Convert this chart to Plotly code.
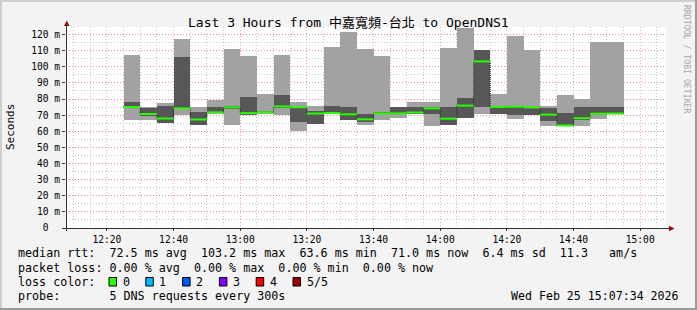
import plotly.graph_objects as go
from datetime import datetime, timedelta

# ---------------- data ----------------
slot_start = [
    "12:25", "12:30", "12:35", "12:40", "12:45", "12:50", "12:55", "13:00", "13:05", "13:10",
    "13:15", "13:20", "13:25", "13:30", "13:35", "13:40", "13:45", "13:50", "13:55", "14:00",
    "14:05", "14:10", "14:15", "14:20", "14:25", "14:30", "14:35", "14:40", "14:45", "14:50",
]
rtt_min = [67.2, 66.7, 65.0, 70.2, 64.0, 70.4, 64.1, 70.2, 70.8, 69.8,
           59.9, 64.4, 70.5, 66.7, 64.1, 67.2, 68.0, 70.6, 63.0, 63.6,
           68.3, 70.7, 70.5, 67.8, 70.2, 63.0, 63.1, 63.4, 67.8, 70.7]
rtt_p2 = [74.3, 69.5, 64.9, 73.8, 64.1, 71.2, 74.3, 70.3, 71.2, 74.4,
          65.8, 64.5, 70.7, 66.8, 65.7, 70.6, 70.5, 70.7, 70.5, 63.8,
          68.3, 74.8, 70.7, 70.3, 70.3, 66.6, 63.2, 67.2, 70.7, 70.8]
rtt_median = [75.0, 70.7, 67.9, 74.2, 67.3, 71.7, 74.8, 71.2, 71.8, 75.4,
              74.9, 71.0, 71.3, 70.5, 67.4, 71.1, 71.1, 71.6, 74.2, 67.8,
              75.9, 103.3, 75.1, 75.2, 74.8, 70.3, 63.6, 68.1, 70.9, 71.0]
rtt_p4 = [78.3, 74.7, 75.8, 106.2, 71.7, 75.2, 75.5, 81.5, 72.7, 82.2,
          75.1, 72.7, 75.4, 74.8, 70.7, 72.0, 75.2, 75.3, 75.1, 75.3,
          80.8, 110.6, 75.4, 75.5, 74.9, 74.7, 71.5, 75.2, 75.2, 75.2]
rtt_max = [107.5, 74.8, 77.8, 117.4, 75.2, 79.6, 111.2, 106.9, 83.3, 107.5,
           78.4, 75.8, 112.4, 121.5, 111.2, 106.9, 75.3, 78.4, 78.4, 111.9,
           124.3, 110.7, 83.3, 118.8, 110.2, 75.8, 82.2, 80.2, 115.1, 115.6]

y_tick_vals = [0, 10, 20, 30, 40, 50, 60, 70, 80, 90, 100, 110, 120]
y_tick_text = ["0\u00a0\u00a0", "10 m", "20 m", "30 m", "40 m", "50 m", "60 m",
               "70 m", "80 m", "90 m", "100 m", "110 m", "120 m"]

title_text = "Last 3 Hours from 中嘉寬頻-台北 to OpenDNS1"
legend_rtt = "median rtt:  72.5 ms avg  103.2 ms max  63.6 ms min  71.0 ms now  6.4 ms sd  11.3   am/s"
legend_loss = "packet loss: 0.00 % avg  0.00 % max  0.00 % min  0.00 % now"
loss_labels = ["0", "1", "2", "3", "4", "5/5"]
loss_colors = ["#26ff00", "#00b8ff", "#0059ff", "#7e00ff", "#ff0000", "#a10000"]
probe_text = "probe:       5 DNS requests every 300s"
stamp_text = "Wed Feb 25 15:07:34 2026"

# ---------------- geometry ----------------
W, H = 697, 310
L, R, T, B = 66, 31, 27, 82
PW, PH = W - L - R, H - T - B
DAY = "2026-02-25"
STEP = timedelta(minutes=5)


def xp(px):
    return (px - L) / PW


def yp(py):
    return (T + PH - py) / PH


def ts(hm):
    return datetime.strptime(f"{DAY} {hm}", "%Y-%m-%d %H:%M")


starts = [ts(s) for s in slot_start]
centers = [s + STEP / 2 for s in starts]
width_ms = STEP.total_seconds() * 1000

MONO = "DejaVu Sans Mono"
fig = go.Figure()

# outer smoke (min..max)
fig.add_trace(go.Bar(
    x=centers, y=[mx - mn for mn, mx in zip(rtt_min, rtt_max)], base=rtt_min,
    width=width_ms, marker=dict(color="#a2a2a2", line=dict(width=0)),
    hoverinfo="skip", showlegend=False))
# inner smoke (2nd..4th ping)
fig.add_trace(go.Bar(
    x=centers, y=[b - a for a, b in zip(rtt_p2, rtt_p4)], base=rtt_p2,
    width=width_ms, marker=dict(color="#575757", line=dict(width=0)),
    hoverinfo="skip", showlegend=False))

# median connector (dark, dotted)
cx = starts + [starts[-1] + STEP]
cy = rtt_median + [rtt_median[-1]]
fig.add_trace(go.Scatter(
    x=cx, y=cy, mode="lines", line=dict(color="#202020", width=1, shape="hv", dash="1px,1px"),
    hoverinfo="skip", showlegend=False))

# median segments (loss colour 0)
mx_, my_ = [], []
for s, m in zip(starts, rtt_median):
    mx_ += [s, s + STEP, None]
    my_ += [m, m, None]
fig.add_trace(go.Scatter(
    x=mx_, y=my_, mode="lines", line=dict(color=loss_colors[0], width=2),
    hoverinfo="skip", showlegend=False))

x0 = datetime(2026, 2, 25, 12, 7, 44)
x1 = x0 + timedelta(hours=3)

fig.update_layout(
    width=W, height=H,
    margin=dict(l=L, r=R, t=T, b=B, pad=0),
    paper_bgcolor="#f3f3f3", plot_bgcolor="#ffffff",
    barmode="overlay", bargap=0,
    font=dict(family=MONO, size=10, color="#000000"),
    xaxis=dict(
        type="date", range=[x0, x1], tickformat="%H:%M",
        tick0=f"{DAY} 12:00", dtick=20 * 60 * 1000,
        showgrid=True, gridcolor="rgba(255,90,90,0.55)", griddash="1px,2px", gridwidth=1,
        minor=dict(dtick=5 * 60 * 1000, tick0=f"{DAY} 12:00", showgrid=True,
                   gridcolor="rgba(150,150,150,0.55)", griddash="1px,2px", gridwidth=1),
        ticks="outside", ticklen=2, tickcolor="#404040",
        tickfont=dict(family=MONO, size=9.6, color="#000000"),
        showline=False, zeroline=False, layer="below traces", fixedrange=True,
    ),
    yaxis=dict(
        range=[0, PH / 1.6125], tickvals=y_tick_vals, ticktext=y_tick_text,
        showgrid=True, gridcolor="rgba(255,90,90,0.55)", griddash="1px,2px", gridwidth=1,
        minor=dict(dtick=5, tick0=0, showgrid=True,
                   gridcolor="rgba(150,150,150,0.55)", griddash="1px,2px", gridwidth=1),
        ticks="outside", ticklen=3, tickcolor="#404040",
        tickfont=dict(family=MONO, size=9.6, color="#000000"),
        showline=False, zeroline=False, layer="below traces", fixedrange=True,
    ),
)

shapes = []
# frame (3D border)
shapes.append(dict(type="line", xref="paper", yref="paper", x0=xp(0), x1=xp(W), y0=yp(1), y1=yp(1),
                   line=dict(color="#cfcfcf", width=2)))
shapes.append(dict(type="line", xref="paper", yref="paper", x0=xp(1), x1=xp(1), y0=yp(0), y1=yp(H),
                   line=dict(color="#cfcfcf", width=2)))
shapes.append(dict(type="line", xref="paper", yref="paper", x0=xp(0), x1=xp(W), y0=yp(H - 1), y1=yp(H - 1),
                   line=dict(color="#9a9a9a", width=2)))
shapes.append(dict(type="line", xref="paper", yref="paper", x0=xp(W - 1), x1=xp(W - 1), y0=yp(0), y1=yp(H),
                   line=dict(color="#9a9a9a", width=2)))
# axes with arrows
shapes.append(dict(type="line", xref="paper", yref="paper", x0=xp(66.5), x1=xp(66.5), y0=yp(231), y1=yp(24),
                   line=dict(color="#303030", width=1)))
shapes.append(dict(type="line", xref="paper", yref="paper", x0=xp(62), x1=xp(670), y0=yp(228.5), y1=yp(228.5),
                   line=dict(color="#303030", width=1)))
shapes.append(dict(type="path", xref="paper", yref="paper",
                   path=f"M {xp(64)} {yp(26)} L {xp(69.5)} {yp(26)} L {xp(66.75)} {yp(20.5)} Z",
                   fillcolor="#8b1010", line=dict(width=0)))
shapes.append(dict(type="path", xref="paper", yref="paper",
                   path=f"M {xp(669)} {yp(225.8)} L {xp(669)} {yp(231.2)} L {xp(674.5)} {yp(228.5)} Z",
                   fillcolor="#8b1010", line=dict(width=0)))

annotations = []


def text(px, py, s, size, xanchor="left", color="#000000", angle=0, family=MONO):
    annotations.append(dict(x=xp(px), y=yp(py), xref="paper", yref="paper", text=s,
                            showarrow=False, xanchor=xanchor, yanchor="middle",
                            textangle=angle, font=dict(family=family, size=size, color=color)))


text(348, 22, title_text, 13, xanchor="center", family="DejaVu Sans Mono, Noto Sans CJK TC")
text(11, 127, "Seconds", 11, xanchor="center", angle=-90)
text(687, 59, "RRDTOOL / TOBI OETIKER", 8.2, xanchor="center", angle=90, color="#a8a8a8")

NB = "\u00a0"
text(16, 253, legend_rtt.replace(" ", NB), 11.7)
text(16, 267.5, legend_loss.replace(" ", NB), 11.7)
text(16, 281.5, "loss color:", 11.7)
for i, (lab, col) in enumerate(zip(loss_labels, loss_colors)):
    bx = 109 + i * 36.8
    shapes.append(dict(type="rect", xref="paper", yref="paper",
                       x0=xp(bx), x1=xp(bx + 7.5), y0=yp(286), y1=yp(277.5),
                       fillcolor=col, line=dict(color="#000000", width=1)))
    text(bx + 11.5, 281.5, lab, 11.7)
text(16, 295.5, probe_text.replace(" ", NB), 11.7)
text(680.5, 295.5, stamp_text.replace(" ", NB), 11.6, xanchor="right")

fig.update_layout(shapes=shapes, annotations=annotations)
fig.write_html("out.html")
